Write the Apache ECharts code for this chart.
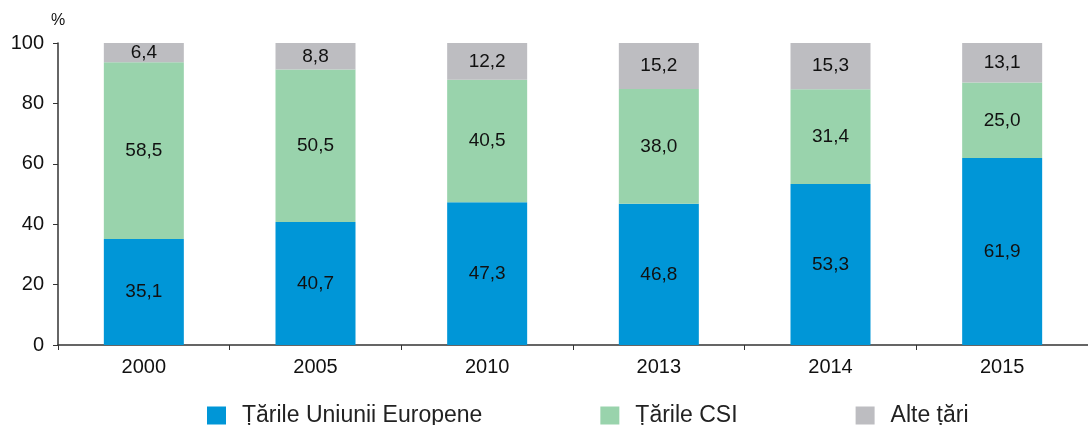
<!DOCTYPE html>
<html>
<head>
<meta charset="utf-8">
<script src="https://cdn.jsdelivr.net/npm/echarts@6/dist/echarts.min.js"></script>
<style>
  html, body { margin: 0; padding: 0; background: #fff; }
  #chart { width: 1088px; height: 425px; }
</style>
</head>
<body>
<div id="chart"></div>
<script>
// years on the x axis
const years = ['2000', '2005', '2010', '2013', '2014', '2015'];

// shares by destination group, %
const euValues = [35.1, 40.7, 47.3, 46.8, 53.3, 61.9];
const csiValues = [58.5, 50.5, 40.5, 38.0, 31.4, 25.0];
const otherValues = [6.4, 8.8, 12.2, 15.2, 15.3, 13.1];

const seriesNames = ['Țările Uniunii Europene', 'Țările CSI', 'Alte țări'];
const colors = ['#0096D7', '#99D3AC', '#BDBDC1'];

const chart = echarts.init(document.getElementById('chart'));

// comma as decimal separator
function fmt(p) {
    return p.value.toFixed(1).replace('.', ',');
}

function makeSeries(name, data, color) {
    return {
        name: name,
        type: 'bar',
        stack: 'total',
        barWidth: 80,
        data: data,
        itemStyle: { color: color },
        label: {
            show: true,
            position: 'inside',
            formatter: fmt,
            color: '#111',
            fontSize: 19,
            fontFamily: 'Liberation Sans'
        }
    };
}

const option = {
    animation: false,
    textStyle: { fontFamily: 'Liberation Sans' },
    grid: { left: 58, top: 43, width: 1040, height: 302 },
    legend: {
        top: 399,
        left: 202,
        itemWidth: 19,
        itemHeight: 18,
        itemGap: 118,
        icon: 'rect',
        textStyle: { fontSize: 23, color: '#222', fontFamily: 'Liberation Sans', padding: [0, 0, 0, 11] },
        data: seriesNames
    },
    xAxis: {
        type: 'category',
        data: years,
        axisLine: { lineStyle: { color: '#333', width: 1.5 } },
        axisTick: { show: true, length: 5, lineStyle: { color: '#333' } },
        axisLabel: { color: '#111', fontSize: 20, margin: 12 }
    },
    yAxis: {
        type: 'value',
        min: 0,
        max: 100,
        interval: 20,
        name: '%',
        nameLocation: 'end',
        nameGap: 14,
        nameTextStyle: { color: '#111', fontSize: 16, align: 'center' },
        axisLine: { show: true, lineStyle: { color: '#333', width: 1.5 } },
        axisTick: { show: true, length: 5, lineStyle: { color: '#333' } },
        splitLine: { show: false },
        axisLabel: { color: '#111', fontSize: 20, margin: 14 }
    },
    series: [
        makeSeries(seriesNames[0], euValues, colors[0]),
        makeSeries(seriesNames[1], csiValues, colors[1]),
        makeSeries(seriesNames[2], otherValues, colors[2])
    ]
};

chart.setOption(option);
</script>
</body>
</html>
